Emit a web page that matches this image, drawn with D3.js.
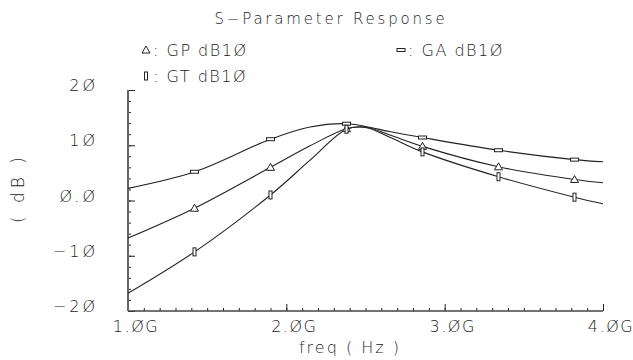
<!DOCTYPE HTML>
<html lang="en">
  <head>
    <meta charset="UTF-8">
    <title>S-Parameter Response</title>
    <script src="https://cdn.jsdelivr.net/npm/d3@7"></script>
  </head>
  <body style="margin:0;background:white">
  <style>
    text {
      font-family: "DejaVu Sans", sans-serif;
      font-weight: 300;
      fill: #222;
    }
  </style>

    <svg id="viz"></svg>

    <script>
      // frequencies in GHz, gains in dB
      const freq = [1.0, 1.42, 1.9, 2.15, 2.38, 2.5, 2.65, 2.86, 3.34, 3.82, 4.0];
      const gaDb = [2.2, 5.2, 11.1, 13.3, 13.9, 13.4, 12.5, 11.4, 9.1, 7.4, 7.0];
      const gpDb = [-6.8, -1.4, 6.0, 9.9, 13.0, 13.3, 11.9, 9.8, 6.1, 3.8, 3.2];
      const gtDb = [-16.8, -9.3, 1.0, 7.3, 12.9, 13.2, 11.5, 8.8, 4.3, 0.6, -0.6];
      // points of the grid that carry a marker
      const markerIdx = [1, 2, 4, 7, 8, 9];

      const xTicks = [1, 2, 3, 4];
      const xTickLabels = ["1.ØG", "2.ØG", "3.ØG", "4.ØG"];
      const yTicks = [-20, -10, 0, 10, 20];
      const yTickLabels = ["\u22122Ø", "\u22121Ø", "Ø.Ø", "1Ø", "2Ø"];

      const series = [
        {name: "GP dB1Ø", values: gpDb, shape: "tri"},
        {name: "GA dB1Ø", values: gaDb, shape: "hbar"},
        {name: "GT dB1Ø", values: gtDb, shape: "vbar"}
      ];

      const width = 633, height = 360;
      const plotLeft = 128, plotRight = 603, plotTop = 90, plotBottom = 311;
      const ink = "#222";

      const svg = d3.select("#viz")
        .attr("width", width)
        .attr("height", height);

      const x = d3.scaleLinear().domain([1, 4]).range([plotLeft, plotRight]);
      const y = d3.scaleLinear().domain([-20, 20]).range([plotBottom, plotTop]);

      // axes, ticks point inward
      svg.append("g")
        .attr("transform", `translate(0,${plotBottom})`)
        .call(d3.axisTop(x).tickValues(d3.range(1, 4.001, 0.1)).tickSize(3).tickFormat(""))
        .call(g => g.select(".domain").remove())
        .call(g => g.selectAll("line").attr("stroke", ink));
      svg.append("g")
        .attr("transform", `translate(0,${plotBottom})`)
        .call(d3.axisTop(x).tickValues(xTicks).tickSize(7).tickFormat(""))
        .call(g => g.select(".domain").remove())
        .call(g => g.selectAll("line").attr("stroke", ink));
      svg.append("g")
        .attr("transform", `translate(${plotLeft},0)`)
        .call(d3.axisRight(y).tickValues(d3.range(-20, 20.001, 2)).tickSize(3).tickFormat(""))
        .call(g => g.select(".domain").remove())
        .call(g => g.selectAll("line").attr("stroke", ink));
      svg.append("g")
        .attr("transform", `translate(${plotLeft},0)`)
        .call(d3.axisRight(y).tickValues(yTicks).tickSize(7).tickFormat(""))
        .call(g => g.select(".domain").remove())
        .call(g => g.selectAll("line").attr("stroke", ink));

      svg.append("line")
        .attr("x1", plotLeft).attr("x2", plotRight)
        .attr("y1", plotBottom).attr("y2", plotBottom)
        .attr("stroke", "#444").attr("stroke-width", 1.5);
      svg.append("line")
        .attr("x1", plotLeft).attr("x2", plotLeft)
        .attr("y1", plotTop).attr("y2", plotBottom)
        .attr("stroke", "#666").attr("stroke-width", 2);

      // tick labels
      svg.selectAll(".xlab")
        .data(xTicks)
        .join("text")
          .attr("class", "xlab")
          .attr("x", d => x(d) + 8)
          .attr("y", plotBottom + 21)
          .attr("text-anchor", "middle")
          .attr("font-size", 16)
          .attr("letter-spacing", 1.5)
          .text((d, i) => xTickLabels[i]);

      svg.selectAll(".ylab")
        .data(yTicks)
        .join("text")
          .attr("class", "ylab")
          .attr("x", 98)
          .attr("y", d => y(d) + 1)
          .attr("text-anchor", "end")
          .attr("font-size", 16)
          .attr("letter-spacing", 3)
          .text((d, i) => yTickLabels[i]);

      // titles
      svg.append("text")
        .attr("x", 331).attr("y", 24)
        .attr("text-anchor", "middle")
        .attr("font-size", 15)
        .attr("letter-spacing", 2.8)
        .text("S\u2212Parameter Response");

      svg.append("text")
        .attr("x", 350).attr("y", 353)
        .attr("text-anchor", "middle")
        .attr("font-size", 16)
        .attr("letter-spacing", 2)
        .text("freq ( Hz )");

      svg.append("text")
        .attr("transform", "translate(24,188) rotate(-90)")
        .attr("text-anchor", "middle")
        .attr("font-size", 17)
        .attr("letter-spacing", 4)
        .text("( dB )");

      // curves
      const line = d3.line()
        .x((d, i) => x(freq[i]))
        .y(d => y(d))
        .curve(d3.curveCatmullRom.alpha(0.5));

      svg.selectAll(".curve")
        .data(series)
        .join("path")
          .attr("class", "curve")
          .attr("d", d => line(d.values))
          .attr("fill", "none")
          .attr("stroke", ink)
          .attr("stroke-width", 1.1);

      const drawMarker = (sel, shape) => {
        if (shape === "tri") {
          sel.append("path").attr("d", "M-4,3L4,3L0,-4Z");
        } else if (shape === "hbar") {
          sel.append("rect").attr("x", -4).attr("y", -1.5).attr("width", 8).attr("height", 3);
        } else {
          sel.append("rect").attr("x", -1.5).attr("y", -4).attr("width", 3).attr("height", 8);
        }
        sel.selectAll("path,rect")
          .attr("fill", "white")
          .attr("stroke", ink)
          .attr("stroke-width", 1);
      };

      series.forEach(s => {
        markerIdx.forEach(i => {
          const g = svg.append("g")
            .attr("transform", `translate(${x(freq[i])},${y(s.values[i])})`);
          drawMarker(g, s.shape);
        });
      });

      // legend
      const legendPos = [[146, 50], [401, 50], [146, 76]];
      series.forEach((s, i) => {
        const g = svg.append("g")
          .attr("transform", `translate(${legendPos[i][0]},${legendPos[i][1]})`);
        drawMarker(g, s.shape);
        g.append("text")
          .attr("x", 7)
          .attr("y", 6)
          .attr("font-size", 16)
          .attr("letter-spacing", 1.5)
          .text(": " + s.name);
      });
    </script>
  </body>
</html>
